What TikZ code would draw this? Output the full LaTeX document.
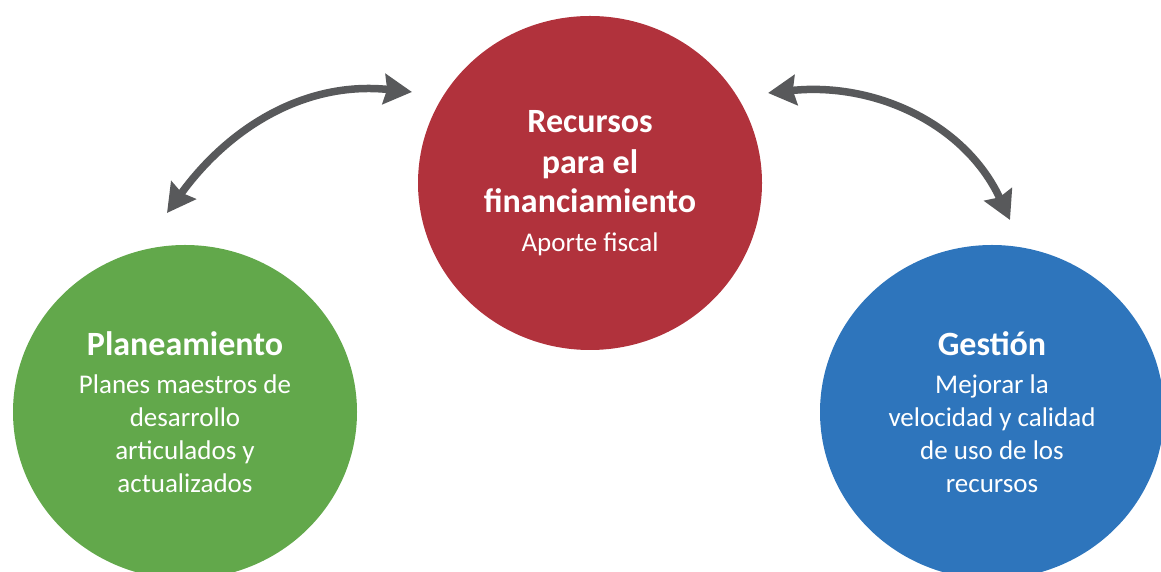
\documentclass[tikz,border=0pt]{standalone}
\usepackage{fontspec}
\setmainfont{Carlito}
\usetikzlibrary{arrows.meta,shapes.geometric}
\definecolor{CircleRed}{HTML}{B1323C}
\definecolor{CircleGreen}{HTML}{62A84B}
\definecolor{CircleBlue}{HTML}{2E75BC}
\definecolor{ArrowGray}{HTML}{58595B}
\newcommand{\titulo}[1]{{\fontsize{34}{40}\selectfont\bfseries #1}}

\begin{document}
\begin{tikzpicture}[x=1pt, y=1pt,
  circ/.style={ellipse, minimum width=344pt, minimum height=334pt, inner sep=0pt,
    text=white, align=center, font=\fontsize{27}{33}\selectfont},
  flecha/.style={ArrowGray, line width=7.5pt,
    {Stealth[length=28pt, width=30pt, inset=3pt]}-{Stealth[length=28pt, width=30pt, inset=3pt]}}]
\clip (0,0) rectangle (1161,572);

% Financiamiento
\node[circ, fill=CircleRed] (recursos) at (590,389)
  {\titulo{Recursos}\\[8pt] \titulo{para el}\\[6pt] \titulo{financiamiento}\\[6pt] Aporte fiscal};

% Planeamiento
\node[circ, fill=CircleGreen] (plan) at (185,160)
  {\titulo{Planeamiento}\\[5pt] Planes maestros de\\ desarrollo\\ articulados y\\ actualizados};

% Gestion
\node[circ, fill=CircleBlue] (gestion) at (992,160)
  {\titulo{Gestión}\\[5pt] Mejorar la\\ velocidad y calidad\\ de uso de los\\ recursos};

% Arrow ends
\coordinate (planarriba) at (167,359);
\coordinate (recizq) at (412,480);
\coordinate (recder) at (768,479);
\coordinate (gestarriba) at (1010,352);

% Arrows
\draw[flecha] (planarriba) to[out=54, in=174] (recizq);
\draw[flecha] (recder) to[out=6, in=115] (gestarriba);

\end{tikzpicture}
\end{document}
